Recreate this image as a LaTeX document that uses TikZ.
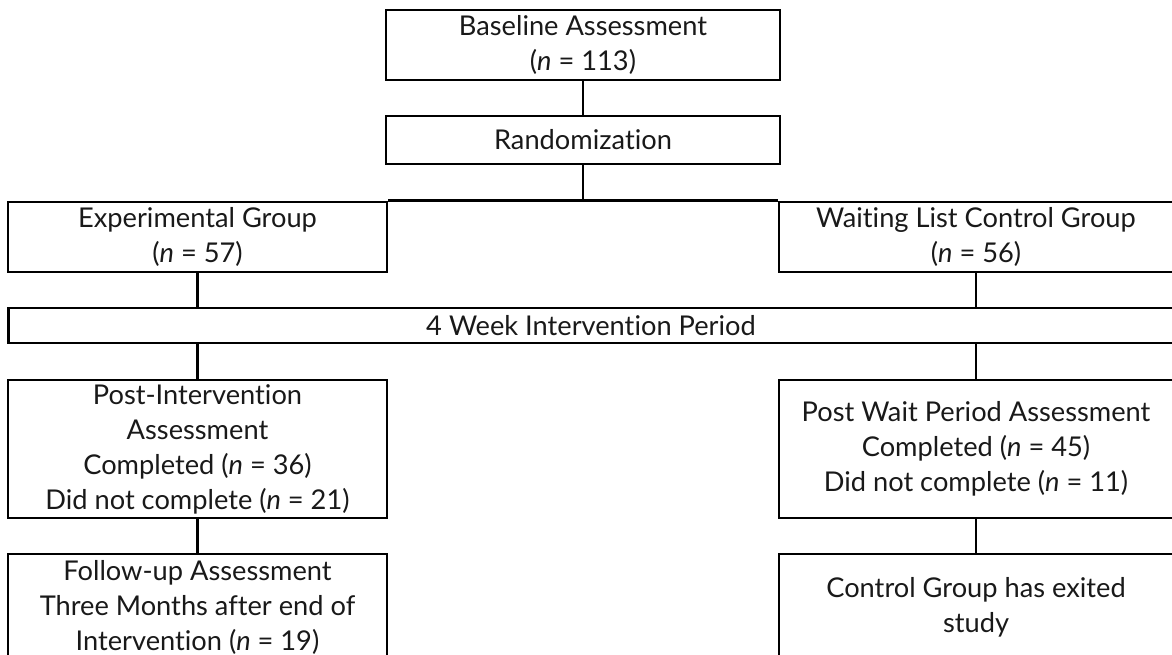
\documentclass[tikz,border=0pt]{standalone}
\usepackage{fontspec}
\setmainfont{Lato}[Ligatures=NoCommon]
\usepackage{tikz}

\begin{document}
\begin{tikzpicture}[x=0.02cm, y=-0.02cm,
		box/.style={draw, line width=1.6pt, align=center, inner sep=0pt,
			text=black!90, font=\fontsize{15.5}{19.9}\selectfont},
		link/.style={line width=1.6pt}]
		\useasboundingbox (0,0) rectangle (1172,654);
		\clip (0,0) rectangle (1172,654);
		% top of the chart
		\node[box, minimum width=7.88cm, minimum height=1.4cm] (base) at (583,45) {Baseline Assessment\\(\textit{n} = 113)};
		\node[box, minimum width=7.88cm, minimum height=0.96cm] (rand) at (583,140) {Randomization};
		% the two groups
		\node[box, minimum width=7.58cm, minimum height=1.4cm] (exp) at (197.5,237) {Experimental Group\\(\textit{n} = 57)};
		\node[box, minimum width=7.88cm, minimum height=1.4cm] (wait) at (976,237) {Waiting List Control Group\\(\textit{n} = 56)};
		\node[box, minimum width=23.32cm, minimum height=0.7cm] (period) at (591,325.5) {4 Week Intervention Period};
		\node[box, minimum width=7.58cm, minimum height=2.76cm] (post) at (197.5,449) {Post-Intervention\\Assessment\\Completed (\textit{n} = 36)\\Did not complete (\textit{n} = 21)};
		\node[box, minimum width=7.88cm, minimum height=2.76cm] (postwait) at (976,449) {Post Wait Period Assessment\\Completed (\textit{n} = 45)\\Did not complete (\textit{n} = 11)};
		% the boxes at the bottom run past the edge
		\node[box, minimum width=7.58cm, minimum height=2.12cm] (follow) at (197.5,607) {Follow-up Assessment\\Three Months after end of\\Intervention (\textit{n} = 19)};
		\node[box, minimum width=7.88cm, minimum height=2.12cm] (exitbox) at (976,607) {Control Group has exited\\study};
		% connectors
		\draw[link] (base.south) -- (rand.north);
		\draw[link] (rand.south) -- (rand.south |- exp.north);
		\draw[link] (exp.north east) -- (wait.north west);
		\draw[link] (exp.south) -- (exp.south |- period.north);
		\draw[link] (wait.south) -- (wait.south |- period.north);
		\draw[link] (period.south -| post.north) -- (post.north);
		\draw[link] (period.south -| postwait.north) -- (postwait.north);
		\draw[link] (post.south) -- (follow.north);
		\draw[link] (postwait.south) -- (exitbox.north);
	\end{tikzpicture}
\end{document}
